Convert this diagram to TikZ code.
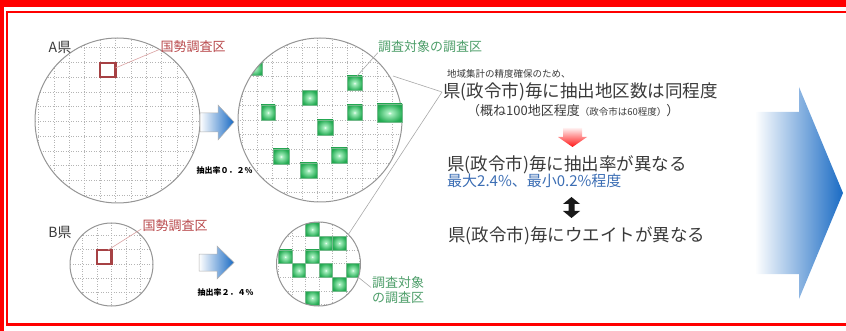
\documentclass[tikz,border=0pt]{standalone}
\usepackage{fontspec}
\setmainfont{Noto Sans CJK JP}
\usetikzlibrary{calc}
\definecolor{txt}{HTML}{3A3A3A}
\definecolor{lbred}{HTML}{B8484B}
\definecolor{lbgreen}{HTML}{4E9E6A}
\definecolor{gridc}{HTML}{B4B4B4}
\definecolor{circc}{HTML}{959595}
\definecolor{bluearr}{HTML}{1A6BC4}
\definecolor{bluetxt}{HTML}{3C6EB4}
\definecolor{gsqlight}{HTML}{A8F0C0}
\definecolor{gsq}{HTML}{26AD55}
\definecolor{gsqdark}{HTML}{188A3E}
\definecolor{leadred}{HTML}{D9A0A0}
\definecolor{leadgray}{HTML}{A8A8A8}
\pgfdeclareradialshading{greensq}{\pgfpoint{0bp}{0bp}}{color(0bp)=(white); color(4bp)=(gsqlight); color(26bp)=(gsq); color(50bp)=(gsqdark); color(72bp)=(gsqdark)}
\tikzset{
  gridline/.style={draw=gridc, line width=0.55pt, dotted},
  circline/.style={draw=circc, line width=1pt},
  redsq/.style={draw=lbred!90!black, line width=2.2pt},
  gsquare/.style={shading=greensq, draw=gsqdark!60, line width=0.3pt},
  lead/.style={line width=0.6pt},
  smallarrow/.style={draw=gray!60, line width=0.5pt, left color=white, right color=bluearr},
  lbl/.style={inner sep=0pt, font=\fontsize{13}{14}\selectfont},
  big/.style={inner sep=0pt, anchor=west, text=txt, font=\fontsize{17.5}{20}\selectfont},
  rate/.style={inner sep=0pt, font=\fontsize{8}{9}\selectfont\bfseries},
}
\begin{document}
\begin{tikzpicture}[x=1pt, y=-1pt]
\useasboundingbox (0,0) rectangle (846,331);
% frame
\fill[red] (0,0) rectangle (846,7);
\fill[red] (0,0) rectangle (3.5,331);
\draw[red, line width=2.4pt] (900,11.8) -- (6.8,11.8) -- (6.8,324.6) -- (900,324.6);

% ---------- circle A left ----------
\coordinate (CA1) at (117.5,120.5);
\begin{scope}
\clip (CA1) circle (82.5pt);
\foreach \k in {-5,...,7} \draw[gridline] ({100+15.4*\k},30) -- ({100+15.4*\k},210);
\foreach \k in {-3,...,9} \draw[gridline] (30,{62.5+14.75*\k}) -- (210,{62.5+14.75*\k});
\end{scope}
\draw[circline] (CA1) circle (82.5pt);
\draw[redsq] (100,63) rectangle (115.4,77.25);
\coordinate (rsA) at (115.4,68);

% ---------- circle A right ----------
\coordinate (CA2) at (320,120);
\begin{scope}
\clip (CA2) circle (82pt);
\foreach \k in {-6,...,6} \draw[gridline] ({317+15*\k},30) -- ({317+15*\k},210);
\foreach \k in {-6,...,6} \draw[gridline] (230,{120+14.5*\k}) -- (410,{120+14.5*\k});
\path[gsquare] (247,61) rectangle (262,75.5);
\end{scope}
\draw[circline] (CA2) circle (82pt);
\path[gsquare] (347,76) rectangle (362,90.5);
\path[gsquare] (302,90.5) rectangle (317,105);
\path[gsquare] (261,105) rectangle (275,120);
\path[gsquare] (347,105) rectangle (362,120);
\path[gsquare] (377,104) rectangle (402,122);
\path[gsquare] (317,120) rectangle (333,135);
\path[gsquare] (273,149) rectangle (289,164);
\path[gsquare] (331,148) rectangle (347,163);
\path[gsquare] (300,163) rectangle (317,178);
\coordinate (gsA) at (357,76);

% ---------- circle B left ----------
\coordinate (CB1) at (111.5,264.5);
\begin{scope}
\clip (CB1) circle (41.5pt);
\foreach \k in {-3,...,4} \draw[gridline] ({97+14.5*\k},215) -- ({97+14.5*\k},310);
\foreach \k in {-3,...,4} \draw[gridline] (60,{249.5+14.3*\k}) -- (160,{249.5+14.3*\k});
\end{scope}
\draw[circline] (CB1) circle (41.5pt);
\draw[redsq] (97,250) rectangle (111.5,263.8);
\coordinate (rsB) at (108,250);

% ---------- circle B right ----------
\coordinate (CB2) at (318.5,264);
\begin{scope}
\clip (CB2) circle (42pt);
\foreach \k in {-1,...,7} \draw[gridline] ({278.5+13.5*\k},215) -- ({278.5+13.5*\k},315);
\foreach \k in {-1,...,7} \draw[gridline] (270,{222.5+13.7*\k}) -- (370,{222.5+13.7*\k});
\foreach \c/\r in {2/0,3/1,4/1,0/2,2/2,1/3,3/3,5/3,4/4,2/5}
  \path[gsquare] ({278.5+13.5*\c},{222.5+13.7*\r}) rectangle ({278.5+13.5*(\c+1)},{222.5+13.7*(\r+1)});
\end{scope}
\draw[circline] (CB2) circle (42pt);
\coordinate (gsB) at (358,277);

% ---------- small arrows ----------
\path[smallarrow] (200,113) -- (218,113) -- (218,105) -- (234,122) -- (218,140) -- (218,132) -- (200,132) -- cycle;
\path[smallarrow] (199,254) -- (217,254) -- (217,246) -- (234,262.5) -- (217,279) -- (217,271) -- (199,271) -- cycle;

% ---------- labels ----------
\node[lbl, text=txt, font=\fontsize{14}{15}\selectfont] (Aken) at (60,47.5) {A県};
\node[lbl, text=lbred] (kokuA) at (193,46.5) {国勢調査区};
\node[lbl, text=lbgreen] (chosaA) at (430,46.5) {調査対象の調査区};
\node[rate] (rateA) at (224.5,170.5) {抽出率０．２\%};
\node[lbl, text=txt, font=\fontsize{14}{15}\selectfont] (Bken) at (60,232) {B県};
\node[lbl, text=lbred] (kokuB) at (175,226) {国勢調査区};
\node[rate] (rateB) at (225.5,292) {抽出率２．４\%};
\node[lbl, text=lbgreen, anchor=west] (chosaB1) at (372,282.5) {調査対象};
\node[lbl, text=lbgreen, anchor=west] (chosaB2) at (372,297.5) {の調査区};

% leaders
\draw[lead, leadred] (kokuA.west) ++(-1,3) -- (rsA);
\draw[lead, leadred] (kokuB.west) ++(-1,3) -- (rsB);
\draw[lead, leadgray] (chosaA.south west) -- (gsA);
\draw[lead, leadgray] (chosaB1.west) ++(-1,5) -- (gsB);

% callout lines
\coordinate (cl1) at (393,76);
\coordinate (cl2) at (442,92);
\coordinate (cl3) at (348,235);
\draw[lead, leadgray] (cl1) -- (cl2) -- (cl3);

% ---------- text block ----------
\node[inner sep=0pt, anchor=west, text=txt, font=\fontsize{9.5}{10}\selectfont] (t1) at (447,73.5) {地域集計の精度確保のため、};
\node[big] (t2) at (443,91.5) {県(政令市)毎に抽出地区数は同程度};
\node[inner sep=0pt, anchor=west, text=txt] (t3) at (467,111) {{\fontsize{13}{14}\selectfont （概ね100地区程度}{\fontsize{9.5}{10}\selectfont （政令市は60程度）}{\fontsize{13}{14}\selectfont ）}};
\path[top color=red!6, bottom color=red!92] (563,128) -- (582,128) -- (582,137) -- (587,137) -- (572.5,147) -- (558,137) -- (563,137) -- cycle;
\node[big] (t4) at (447,165) {県(政令市)毎に抽出率が異なる};
\node[inner sep=0pt, anchor=west, text=bluetxt, font=\fontsize{15}{16}\selectfont] (t5) at (447,180.5) {最大2.4\%、最小0.2\%程度};
\fill[black!90] (571.5,197) -- (580,204) -- (574.5,204) -- (574.5,211) -- (580,211) -- (571.5,218) -- (563,211) -- (568.5,211) -- (568.5,204) -- (563,204) -- cycle;
\node[big] (t6) at (448,235.5) {県(政令市)毎にウエイトが異なる};

% ---------- big arrow ----------
\path[left color=white, middle color=bluearr!30, right color=bluearr] (755,112) -- (799,112) -- (799,87) -- (843,193) -- (799,299) -- (799,274) -- (755,274) -- cycle;
\end{tikzpicture}
\end{document}
